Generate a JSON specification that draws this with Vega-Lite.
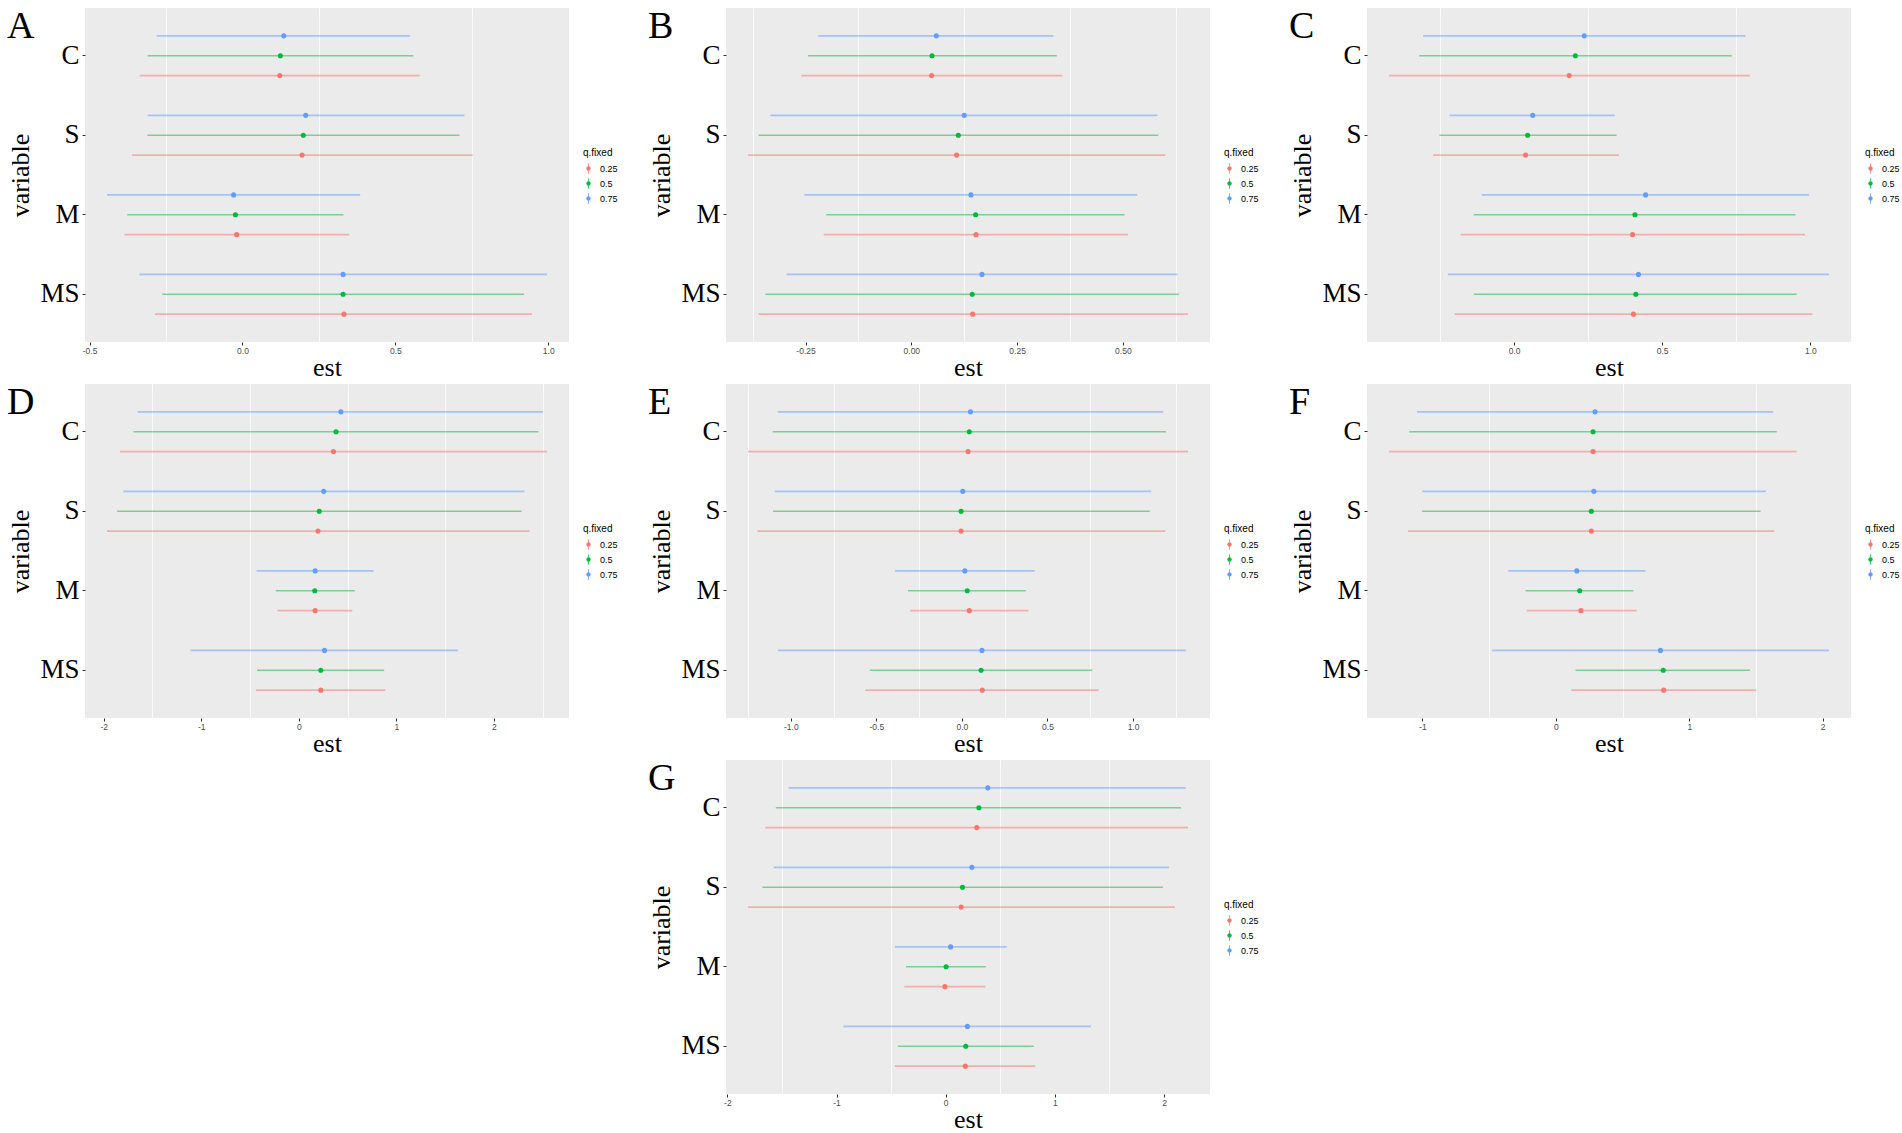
{
  "$schema": "https://vega.github.io/schema/vega-lite/v6.json",
  "description": "Quantile regression estimates with intervals, seven panels A-G",
  "background": "white",
  "padding": {"left": 7, "top": 8, "right": 0, "bottom": 0},
  "datasets": {
    "A": [
      {"variable": "C", "q": "0.75", "low": -0.281, "est": 0.135, "high": 0.548},
      {"variable": "C", "q": "0.5", "low": -0.310, "est": 0.124, "high": 0.559},
      {"variable": "C", "q": "0.25", "low": -0.336, "est": 0.122, "high": 0.580},
      {"variable": "S", "q": "0.75", "low": -0.310, "est": 0.207, "high": 0.726},
      {"variable": "S", "q": "0.5", "low": -0.311, "est": 0.199, "high": 0.710},
      {"variable": "S", "q": "0.25", "low": -0.361, "est": 0.195, "high": 0.753},
      {"variable": "M", "q": "0.75", "low": -0.443, "est": -0.029, "high": 0.385},
      {"variable": "M", "q": "0.5", "low": -0.377, "est": -0.023, "high": 0.330},
      {"variable": "M", "q": "0.25", "low": -0.386, "est": -0.019, "high": 0.349},
      {"variable": "MS", "q": "0.75", "low": -0.337, "est": 0.329, "high": 0.996},
      {"variable": "MS", "q": "0.5", "low": -0.262, "est": 0.329, "high": 0.921},
      {"variable": "MS", "q": "0.25", "low": -0.286, "est": 0.332, "high": 0.947}
    ],
    "B": [
      {"variable": "C", "q": "0.75", "low": -0.220, "est": 0.059, "high": 0.336},
      {"variable": "C", "q": "0.5", "low": -0.244, "est": 0.049, "high": 0.344},
      {"variable": "C", "q": "0.25", "low": -0.260, "est": 0.048, "high": 0.357},
      {"variable": "S", "q": "0.75", "low": -0.333, "est": 0.125, "high": 0.582},
      {"variable": "S", "q": "0.5", "low": -0.361, "est": 0.111, "high": 0.584},
      {"variable": "S", "q": "0.25", "low": -0.386, "est": 0.107, "high": 0.600},
      {"variable": "M", "q": "0.75", "low": -0.253, "est": 0.141, "high": 0.534},
      {"variable": "M", "q": "0.5", "low": -0.201, "est": 0.152, "high": 0.504},
      {"variable": "M", "q": "0.25", "low": -0.207, "est": 0.153, "high": 0.512},
      {"variable": "MS", "q": "0.75", "low": -0.295, "est": 0.167, "high": 0.629},
      {"variable": "MS", "q": "0.5", "low": -0.345, "est": 0.144, "high": 0.633},
      {"variable": "MS", "q": "0.25", "low": -0.361, "est": 0.145, "high": 0.654}
    ],
    "C": [
      {"variable": "C", "q": "0.75", "low": -0.307, "est": 0.237, "high": 0.781},
      {"variable": "C", "q": "0.5", "low": -0.320, "est": 0.207, "high": 0.735},
      {"variable": "C", "q": "0.25", "low": -0.422, "est": 0.186, "high": 0.796},
      {"variable": "S", "q": "0.75", "low": -0.218, "est": 0.063, "high": 0.340},
      {"variable": "S", "q": "0.5", "low": -0.252, "est": 0.046, "high": 0.346},
      {"variable": "S", "q": "0.25", "low": -0.273, "est": 0.039, "high": 0.354},
      {"variable": "M", "q": "0.75", "low": -0.109, "est": 0.444, "high": 0.996},
      {"variable": "M", "q": "0.5", "low": -0.136, "est": 0.408, "high": 0.950},
      {"variable": "M", "q": "0.25", "low": -0.180, "est": 0.400, "high": 0.982},
      {"variable": "MS", "q": "0.75", "low": -0.223, "est": 0.420, "high": 1.063},
      {"variable": "MS", "q": "0.5", "low": -0.136, "est": 0.411, "high": 0.954},
      {"variable": "MS", "q": "0.25", "low": -0.201, "est": 0.403, "high": 1.007}
    ],
    "D": [
      {"variable": "C", "q": "0.75", "low": -1.652, "est": 0.432, "high": 2.503},
      {"variable": "C", "q": "0.5", "low": -1.694, "est": 0.382, "high": 2.457},
      {"variable": "C", "q": "0.25", "low": -1.832, "est": 0.356, "high": 2.545},
      {"variable": "S", "q": "0.75", "low": -1.799, "est": 0.256, "high": 2.314},
      {"variable": "S", "q": "0.5", "low": -1.862, "est": 0.210, "high": 2.285},
      {"variable": "S", "q": "0.25", "low": -1.966, "est": 0.197, "high": 2.365},
      {"variable": "M", "q": "0.75", "low": -0.432, "est": 0.168, "high": 0.767},
      {"variable": "M", "q": "0.5", "low": -0.235, "est": 0.164, "high": 0.574},
      {"variable": "M", "q": "0.25", "low": -0.218, "est": 0.168, "high": 0.549},
      {"variable": "MS", "q": "0.75", "low": -1.111, "est": 0.264, "high": 1.631},
      {"variable": "MS", "q": "0.5", "low": -0.428, "est": 0.226, "high": 0.876},
      {"variable": "MS", "q": "0.25", "low": -0.440, "est": 0.226, "high": 0.889}
    ],
    "E": [
      {"variable": "C", "q": "0.75", "low": -1.075, "est": 0.050, "high": 1.176},
      {"variable": "C", "q": "0.5", "low": -1.106, "est": 0.043, "high": 1.192},
      {"variable": "C", "q": "0.25", "low": -1.250, "est": 0.036, "high": 1.321},
      {"variable": "S", "q": "0.75", "low": -1.094, "est": 0.005, "high": 1.106},
      {"variable": "S", "q": "0.5", "low": -1.104, "est": -0.005, "high": 1.097},
      {"variable": "S", "q": "0.25", "low": -1.195, "est": -0.005, "high": 1.188},
      {"variable": "M", "q": "0.75", "low": -0.392, "est": 0.017, "high": 0.425},
      {"variable": "M", "q": "0.5", "low": -0.315, "est": 0.031, "high": 0.373},
      {"variable": "M", "q": "0.25", "low": -0.303, "est": 0.043, "high": 0.389},
      {"variable": "MS", "q": "0.75", "low": -1.075, "est": 0.117, "high": 1.309},
      {"variable": "MS", "q": "0.5", "low": -0.538, "est": 0.112, "high": 0.762},
      {"variable": "MS", "q": "0.25", "low": -0.564, "est": 0.119, "high": 0.798}
    ],
    "F": [
      {"variable": "C", "q": "0.75", "low": -1.041, "est": 0.294, "high": 1.629},
      {"variable": "C", "q": "0.5", "low": -1.099, "est": 0.279, "high": 1.656},
      {"variable": "C", "q": "0.25", "low": -1.250, "est": 0.279, "high": 1.804},
      {"variable": "S", "q": "0.75", "low": -1.002, "est": 0.285, "high": 1.574},
      {"variable": "S", "q": "0.5", "low": -1.002, "est": 0.266, "high": 1.535},
      {"variable": "S", "q": "0.25", "low": -1.108, "est": 0.266, "high": 1.638},
      {"variable": "M", "q": "0.75", "low": -0.357, "est": 0.157, "high": 0.672},
      {"variable": "M", "q": "0.5", "low": -0.227, "est": 0.179, "high": 0.581},
      {"variable": "M", "q": "0.25", "low": -0.218, "est": 0.188, "high": 0.606},
      {"variable": "MS", "q": "0.75", "low": -0.478, "est": 0.784, "high": 2.047},
      {"variable": "MS", "q": "0.5", "low": 0.148, "est": 0.805, "high": 1.456},
      {"variable": "MS", "q": "0.25", "low": 0.115, "est": 0.808, "high": 1.502}
    ],
    "G": [
      {"variable": "C", "q": "0.75", "low": -1.440, "est": 0.386, "high": 2.200},
      {"variable": "C", "q": "0.5", "low": -1.556, "est": 0.304, "high": 2.156},
      {"variable": "C", "q": "0.25", "low": -1.653, "est": 0.285, "high": 2.220},
      {"variable": "S", "q": "0.75", "low": -1.575, "est": 0.240, "high": 2.046},
      {"variable": "S", "q": "0.5", "low": -1.679, "est": 0.154, "high": 1.990},
      {"variable": "S", "q": "0.25", "low": -1.811, "est": 0.142, "high": 2.100},
      {"variable": "M", "q": "0.75", "low": -0.465, "est": 0.045, "high": 0.559},
      {"variable": "M", "q": "0.5", "low": -0.364, "est": 0.004, "high": 0.367},
      {"variable": "M", "q": "0.25", "low": -0.379, "est": -0.007, "high": 0.364},
      {"variable": "MS", "q": "0.75", "low": -0.937, "est": 0.199, "high": 1.331},
      {"variable": "MS", "q": "0.5", "low": -0.439, "est": 0.184, "high": 0.806},
      {"variable": "MS", "q": "0.25", "low": -0.465, "est": 0.180, "high": 0.821}
    ]
  },
  "vconcat": [
    {
      "hconcat": [
        {
          "title": "A", "width": 484, "height": 334, "data": {"name": "A"},
          "layer": [
            {"mark": {"type": "rule", "strokeWidth": 1.6, "opacity": 0.5},
             "encoding": {
               "y": {"field": "variable", "type": "nominal", "sort": ["C", "S", "M", "MS"], "scale": {"paddingInner": 0, "paddingOuter": 0.1}, "axis": {"title": "variable", "bandPosition": 0.5}},
               "yOffset": {"field": "q", "type": "nominal", "sort": ["0.75", "0.5", "0.25"], "scale": {"paddingInner": 0, "paddingOuter": 0.5}},
               "x": {"field": "low", "type": "quantitative", "scale": {"nice": false, "zero": false, "padding": 22}, "axis": {"orient": "bottom", "values": [-0.25, 0.25, 0.75], "labels": false, "ticks": false, "title": null, "gridWidth": 0.75}},
               "x2": {"field": "high"},
               "color": {"field": "q", "type": "nominal", "title": "q.fixed", "scale": {"domain": ["0.25", "0.5", "0.75"], "range": ["#F8766D", "#00BA38", "#619CFF"]}}
             }},
            {"mark": {"type": "point", "filled": true, "size": 26, "opacity": 1},
             "encoding": {
               "y": {"field": "variable", "type": "nominal", "sort": ["C", "S", "M", "MS"]},
               "yOffset": {"field": "q", "type": "nominal", "sort": ["0.75", "0.5", "0.25"]},
               "x": {"field": "est", "type": "quantitative", "axis": {"orient": "bottom", "title": "est", "values": [-0.5, 0, 0.5, 1], "format": ".1f"}},
               "color": {"field": "q", "type": "nominal", "title": "q.fixed"}
             }}
          ],
          "resolve": {"axis": {"x": "independent"}}
        },
        {
          "title": "B", "width": 484, "height": 334, "data": {"name": "B"},
          "layer": [
            {"mark": {"type": "rule", "strokeWidth": 1.6, "opacity": 0.5},
             "encoding": {
               "y": {"field": "variable", "type": "nominal", "sort": ["C", "S", "M", "MS"], "scale": {"paddingInner": 0, "paddingOuter": 0.1}, "axis": {"title": "variable", "bandPosition": 0.5}},
               "yOffset": {"field": "q", "type": "nominal", "sort": ["0.75", "0.5", "0.25"], "scale": {"paddingInner": 0, "paddingOuter": 0.5}},
               "x": {"field": "low", "type": "quantitative", "scale": {"nice": false, "zero": false, "padding": 22}, "axis": {"orient": "bottom", "values": [-0.375, -0.125, 0.125, 0.375, 0.625], "labels": false, "ticks": false, "title": null, "gridWidth": 0.75}},
               "x2": {"field": "high"},
               "color": {"field": "q", "type": "nominal", "title": "q.fixed", "scale": {"domain": ["0.25", "0.5", "0.75"], "range": ["#F8766D", "#00BA38", "#619CFF"]}}
             }},
            {"mark": {"type": "point", "filled": true, "size": 26, "opacity": 1},
             "encoding": {
               "y": {"field": "variable", "type": "nominal", "sort": ["C", "S", "M", "MS"]},
               "yOffset": {"field": "q", "type": "nominal", "sort": ["0.75", "0.5", "0.25"]},
               "x": {"field": "est", "type": "quantitative", "axis": {"orient": "bottom", "title": "est", "values": [-0.25, 0, 0.25, 0.5], "format": ".2f"}},
               "color": {"field": "q", "type": "nominal", "title": "q.fixed"}
             }}
          ],
          "resolve": {"axis": {"x": "independent"}}
        },
        {
          "title": "C", "width": 484, "height": 334, "data": {"name": "C"},
          "layer": [
            {"mark": {"type": "rule", "strokeWidth": 1.6, "opacity": 0.5},
             "encoding": {
               "y": {"field": "variable", "type": "nominal", "sort": ["C", "S", "M", "MS"], "scale": {"paddingInner": 0, "paddingOuter": 0.1}, "axis": {"title": "variable", "bandPosition": 0.5}},
               "yOffset": {"field": "q", "type": "nominal", "sort": ["0.75", "0.5", "0.25"], "scale": {"paddingInner": 0, "paddingOuter": 0.5}},
               "x": {"field": "low", "type": "quantitative", "scale": {"nice": false, "zero": false, "padding": 22}, "axis": {"orient": "bottom", "values": [-0.25, 0.25, 0.75], "labels": false, "ticks": false, "title": null, "gridWidth": 0.75}},
               "x2": {"field": "high"},
               "color": {"field": "q", "type": "nominal", "title": "q.fixed", "scale": {"domain": ["0.25", "0.5", "0.75"], "range": ["#F8766D", "#00BA38", "#619CFF"]}}
             }},
            {"mark": {"type": "point", "filled": true, "size": 26, "opacity": 1},
             "encoding": {
               "y": {"field": "variable", "type": "nominal", "sort": ["C", "S", "M", "MS"]},
               "yOffset": {"field": "q", "type": "nominal", "sort": ["0.75", "0.5", "0.25"]},
               "x": {"field": "est", "type": "quantitative", "axis": {"orient": "bottom", "title": "est", "values": [0, 0.5, 1], "format": ".1f"}},
               "color": {"field": "q", "type": "nominal", "title": "q.fixed"}
             }}
          ],
          "resolve": {"axis": {"x": "independent"}}
        }
      ],
      "resolve": {"scale": {"color": "independent"}, "legend": {"color": "independent"}}
    },
    {
      "hconcat": [
        {
          "title": "D", "width": 484, "height": 334, "data": {"name": "D"},
          "layer": [
            {"mark": {"type": "rule", "strokeWidth": 1.6, "opacity": 0.5},
             "encoding": {
               "y": {"field": "variable", "type": "nominal", "sort": ["C", "S", "M", "MS"], "scale": {"paddingInner": 0, "paddingOuter": 0.1}, "axis": {"title": "variable", "bandPosition": 0.5}},
               "yOffset": {"field": "q", "type": "nominal", "sort": ["0.75", "0.5", "0.25"], "scale": {"paddingInner": 0, "paddingOuter": 0.5}},
               "x": {"field": "low", "type": "quantitative", "scale": {"nice": false, "zero": false, "padding": 22}, "axis": {"orient": "bottom", "values": [-1.5, -0.5, 0.5, 1.5, 2.5], "labels": false, "ticks": false, "title": null, "gridWidth": 0.75}},
               "x2": {"field": "high"},
               "color": {"field": "q", "type": "nominal", "title": "q.fixed", "scale": {"domain": ["0.25", "0.5", "0.75"], "range": ["#F8766D", "#00BA38", "#619CFF"]}}
             }},
            {"mark": {"type": "point", "filled": true, "size": 26, "opacity": 1},
             "encoding": {
               "y": {"field": "variable", "type": "nominal", "sort": ["C", "S", "M", "MS"]},
               "yOffset": {"field": "q", "type": "nominal", "sort": ["0.75", "0.5", "0.25"]},
               "x": {"field": "est", "type": "quantitative", "axis": {"orient": "bottom", "title": "est", "values": [-2, -1, 0, 1, 2], "format": "d"}},
               "color": {"field": "q", "type": "nominal", "title": "q.fixed"}
             }}
          ],
          "resolve": {"axis": {"x": "independent"}}
        },
        {
          "title": "E", "width": 484, "height": 334, "data": {"name": "E"},
          "layer": [
            {"mark": {"type": "rule", "strokeWidth": 1.6, "opacity": 0.5},
             "encoding": {
               "y": {"field": "variable", "type": "nominal", "sort": ["C", "S", "M", "MS"], "scale": {"paddingInner": 0, "paddingOuter": 0.1}, "axis": {"title": "variable", "bandPosition": 0.5}},
               "yOffset": {"field": "q", "type": "nominal", "sort": ["0.75", "0.5", "0.25"], "scale": {"paddingInner": 0, "paddingOuter": 0.5}},
               "x": {"field": "low", "type": "quantitative", "scale": {"nice": false, "zero": false, "padding": 22}, "axis": {"orient": "bottom", "values": [-1.25, -0.75, -0.25, 0.25, 0.75, 1.25], "labels": false, "ticks": false, "title": null, "gridWidth": 0.75}},
               "x2": {"field": "high"},
               "color": {"field": "q", "type": "nominal", "title": "q.fixed", "scale": {"domain": ["0.25", "0.5", "0.75"], "range": ["#F8766D", "#00BA38", "#619CFF"]}}
             }},
            {"mark": {"type": "point", "filled": true, "size": 26, "opacity": 1},
             "encoding": {
               "y": {"field": "variable", "type": "nominal", "sort": ["C", "S", "M", "MS"]},
               "yOffset": {"field": "q", "type": "nominal", "sort": ["0.75", "0.5", "0.25"]},
               "x": {"field": "est", "type": "quantitative", "axis": {"orient": "bottom", "title": "est", "values": [-1, -0.5, 0, 0.5, 1], "format": ".1f"}},
               "color": {"field": "q", "type": "nominal", "title": "q.fixed"}
             }}
          ],
          "resolve": {"axis": {"x": "independent"}}
        },
        {
          "title": "F", "width": 484, "height": 334, "data": {"name": "F"},
          "layer": [
            {"mark": {"type": "rule", "strokeWidth": 1.6, "opacity": 0.5},
             "encoding": {
               "y": {"field": "variable", "type": "nominal", "sort": ["C", "S", "M", "MS"], "scale": {"paddingInner": 0, "paddingOuter": 0.1}, "axis": {"title": "variable", "bandPosition": 0.5}},
               "yOffset": {"field": "q", "type": "nominal", "sort": ["0.75", "0.5", "0.25"], "scale": {"paddingInner": 0, "paddingOuter": 0.5}},
               "x": {"field": "low", "type": "quantitative", "scale": {"nice": false, "zero": false, "padding": 22}, "axis": {"orient": "bottom", "values": [-0.5, 0.5, 1.5], "labels": false, "ticks": false, "title": null, "gridWidth": 0.75}},
               "x2": {"field": "high"},
               "color": {"field": "q", "type": "nominal", "title": "q.fixed", "scale": {"domain": ["0.25", "0.5", "0.75"], "range": ["#F8766D", "#00BA38", "#619CFF"]}}
             }},
            {"mark": {"type": "point", "filled": true, "size": 26, "opacity": 1},
             "encoding": {
               "y": {"field": "variable", "type": "nominal", "sort": ["C", "S", "M", "MS"]},
               "yOffset": {"field": "q", "type": "nominal", "sort": ["0.75", "0.5", "0.25"]},
               "x": {"field": "est", "type": "quantitative", "axis": {"orient": "bottom", "title": "est", "values": [-1, 0, 1, 2], "format": "d"}},
               "color": {"field": "q", "type": "nominal", "title": "q.fixed"}
             }}
          ],
          "resolve": {"axis": {"x": "independent"}}
        }
      ],
      "resolve": {"scale": {"color": "independent"}, "legend": {"color": "independent"}}
    },
    {
      "title": "G", "width": 484, "height": 334, "data": {"name": "G"},
      "layer": [
        {"mark": {"type": "rule", "strokeWidth": 1.6, "opacity": 0.5},
         "encoding": {
           "y": {"field": "variable", "type": "nominal", "sort": ["C", "S", "M", "MS"], "scale": {"paddingInner": 0, "paddingOuter": 0.1}, "axis": {"title": "variable", "bandPosition": 0.5}},
           "yOffset": {"field": "q", "type": "nominal", "sort": ["0.75", "0.5", "0.25"], "scale": {"paddingInner": 0, "paddingOuter": 0.5}},
           "x": {"field": "low", "type": "quantitative", "scale": {"nice": false, "zero": false, "padding": 22}, "axis": {"orient": "bottom", "values": [-1.5, -0.5, 0.5, 1.5], "labels": false, "ticks": false, "title": null, "gridWidth": 0.75}},
           "x2": {"field": "high"},
           "color": {"field": "q", "type": "nominal", "title": "q.fixed", "scale": {"domain": ["0.25", "0.5", "0.75"], "range": ["#F8766D", "#00BA38", "#619CFF"]}}
         }},
        {"mark": {"type": "point", "filled": true, "size": 26, "opacity": 1},
         "encoding": {
           "y": {"field": "variable", "type": "nominal", "sort": ["C", "S", "M", "MS"]},
           "yOffset": {"field": "q", "type": "nominal", "sort": ["0.75", "0.5", "0.25"]},
           "x": {"field": "est", "type": "quantitative", "axis": {"orient": "bottom", "title": "est", "values": [-2, -1, 0, 1, 2], "format": "d"}},
           "color": {"field": "q", "type": "nominal", "title": "q.fixed"}
         }}
      ],
      "resolve": {"axis": {"x": "independent"}}
    }
  ],
  "resolve": {"scale": {"color": "independent"}, "legend": {"color": "independent"}},
  "center": true,
  "spacing": 3,
  "config": {
    "concat": {"spacing": 30},
    "view": {"fill": "#EBEBEB", "stroke": null},
    "title": {"anchor": "start", "frame": "group", "font": "Liberation Serif", "fontSize": 38, "fontWeight": "normal", "color": "black", "baseline": "top", "dx": -78, "offset": -38},
    "axis": {
      "domain": false,
      "gridColor": "white",
      "gridWidth": 1.5,
      "tickColor": "#333333",
      "tickSize": 3,
      "labelFont": "Liberation Sans",
      "labelFontSize": 8.5,
      "labelColor": "#4D4D4D",
      "labelPadding": 1,
      "labelExpr": "replace(datum.label, '\u2212', '-')",
      "titleFont": "Liberation Serif",
      "titleFontSize": 26,
      "titleFontWeight": "normal",
      "titleColor": "black",
      "titlePadding": 0
    },
    "axisY": {
      "labelFont": "Liberation Serif",
      "labelFontSize": 27,
      "labelColor": "black",
      "labelPadding": 3,
      "titlePadding": 6
    },
    "legend": {
      "orient": "none",
      "legendX": 498,
      "legendY": 140,
      "titleFont": "Liberation Sans",
      "titleFontSize": 10,
      "titleFontWeight": "normal",
      "titleColor": "black",
      "titlePadding": 5,
      "labelFont": "Liberation Sans",
      "labelFontSize": 9,
      "labelColor": "black",
      "labelOffset": 6,
      "symbolType": "M-0.07,-1L0.07,-1L0.07,1L-0.07,1Z M0.42,0A0.42,0.42,0,1,1,-0.42,0A0.42,0.42,0,1,1,0.42,0Z",
      "symbolSize": 110,
      "symbolStrokeWidth": 0,
      "symbolOpacity": 1,
      "rowPadding": 4
    }
  }
}
